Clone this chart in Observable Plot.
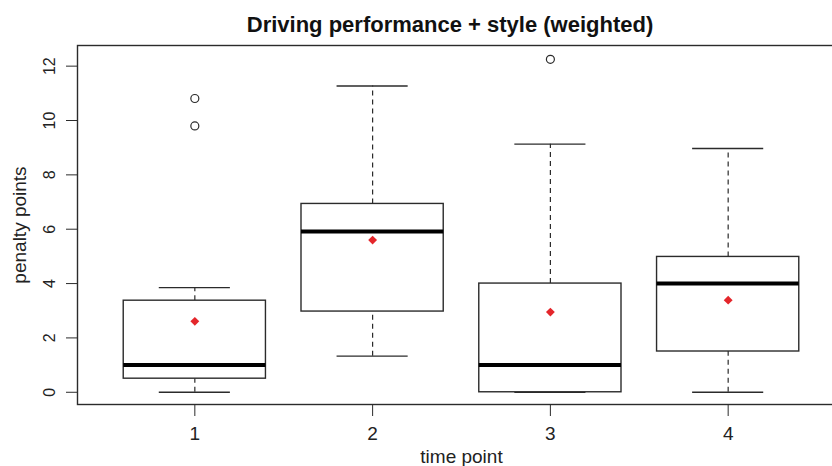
<!DOCTYPE html>
<html>
<head>
<meta charset="utf-8">
<script src="https://cdn.jsdelivr.net/npm/d3@7"></script>
<script src="https://cdn.jsdelivr.net/npm/@observablehq/plot@0.6"></script>
<style>
  html, body { margin: 0; padding: 0; background: #fff; overflow: hidden; width: 832px; height: 466px; }
  #wrap { position: relative; width: 832px; height: 466px; overflow: hidden; }
  #title { position: absolute; left: 0; top: 13px; width: 900px; text-align: center;
           font-family: "Liberation Sans", Arial, sans-serif; font-weight: bold; font-size: 22px;
           line-height: 24px; color: #111; z-index: 2; }
  #chart { position: absolute; left: 0; top: 0; width: 846px; }
  #chart svg { max-width: none !important; }
</style>
</head>
<body>
<div id="wrap">
  <div id="title">Driving performance + style (weighted)</div>
  <div id="chart"></div>
</div>
<script>
// ---- data ----
const timePoints   = [1, 2, 3, 4];
const whiskerLow   = [0, 1.33, 0, 0];
const quartile1    = [0.5, 2.97, 0, 1.5];
const medians      = [1, 5.92, 1, 4.0];
const quartile3    = [3.37, 6.93, 4.0, 4.98];
const whiskerHigh  = [3.85, 11.27, 9.13, 8.97];
const means        = [2.61, 5.6, 2.95, 3.39];
const outlierTime  = [1, 1, 3];
const outlierValue = [10.81, 9.8, 12.25];
const yTicks = [0, 2, 4, 6, 8, 10, 12];
const xTicks = [1, 2, 3, 4];

const boxes = timePoints.map((t, i) => ({
  t, lo: whiskerLow[i], q1: quartile1[i], med: medians[i], q3: quartile3[i], hi: whiskerHigh[i], mean: means[i]
}));
const outliers = outlierTime.map((t, i) => ({t, v: outlierValue[i]}));

const ink = "#2b2b2b";
const boxHalf = 0.4, capHalf = 0.2;

const chart = Plot.plot({
  width: 846,
  height: 466,
  marginLeft: 77,
  marginRight: 1,
  marginTop: 45,
  marginBottom: 62,
  style: {fontFamily: "'Liberation Sans', Arial, sans-serif", color: ink, background: "white", maxWidth: "none"},
  x: {domain: [0.34, 4.66]},
  y: {domain: [-0.45, 12.76]},
  marks: [
    Plot.ruleX(boxes, {x: "t", y1: "q3", y2: "hi", stroke: ink, strokeWidth: 1.2, strokeDasharray: "5,4"}),
    Plot.ruleX(boxes, {x: "t", y1: "lo", y2: "q1", stroke: ink, strokeWidth: 1.2, strokeDasharray: "5,4"}),
    Plot.ruleY(boxes, {y: "hi", x1: d => d.t - capHalf, x2: d => d.t + capHalf, stroke: ink, strokeWidth: 1.4}),
    Plot.ruleY(boxes, {y: "lo", x1: d => d.t - capHalf, x2: d => d.t + capHalf, stroke: ink, strokeWidth: 1.4}),
    Plot.rect(boxes, {x1: d => d.t - boxHalf, x2: d => d.t + boxHalf, y1: "q1", y2: "q3", fill: "white", stroke: ink, strokeWidth: 1.4}),
    Plot.ruleY(boxes, {y: "med", x1: d => d.t - boxHalf, x2: d => d.t + boxHalf, stroke: "#000", strokeWidth: 4}),
    Plot.dot(outliers, {x: "t", y: "v", r: 4, stroke: ink, strokeWidth: 1.2, fill: "none"}),
    Plot.dot(boxes, {x: "t", y: "mean", symbol: "diamond2", r: 4, fill: "#e4262b", stroke: "none"}),
    Plot.frame({stroke: ink, strokeWidth: 1.4}),
    Plot.axisY({ticks: yTicks, tickFormat: d => String(d), tickSize: 11, tickRotate: -90, tickPadding: 12, fontSize: 16, label: null, stroke: ink, fill: "#222"}),
    Plot.axisY({ticks: [], tickSize: 0, label: "penalty points", labelAnchor: "center", labelOffset: 65, labelArrow: false, fontSize: 19, fill: "#222"}),
    Plot.axisX({ticks: xTicks, tickFormat: d => String(d), tickSize: 12, tickPadding: 10, fontSize: 19, label: "time point", labelAnchor: "center", labelOffset: 58, labelArrow: false, stroke: ink, fill: "#222"})
  ]
});
document.getElementById("chart").appendChild(chart);
</script>
</body>
</html>
